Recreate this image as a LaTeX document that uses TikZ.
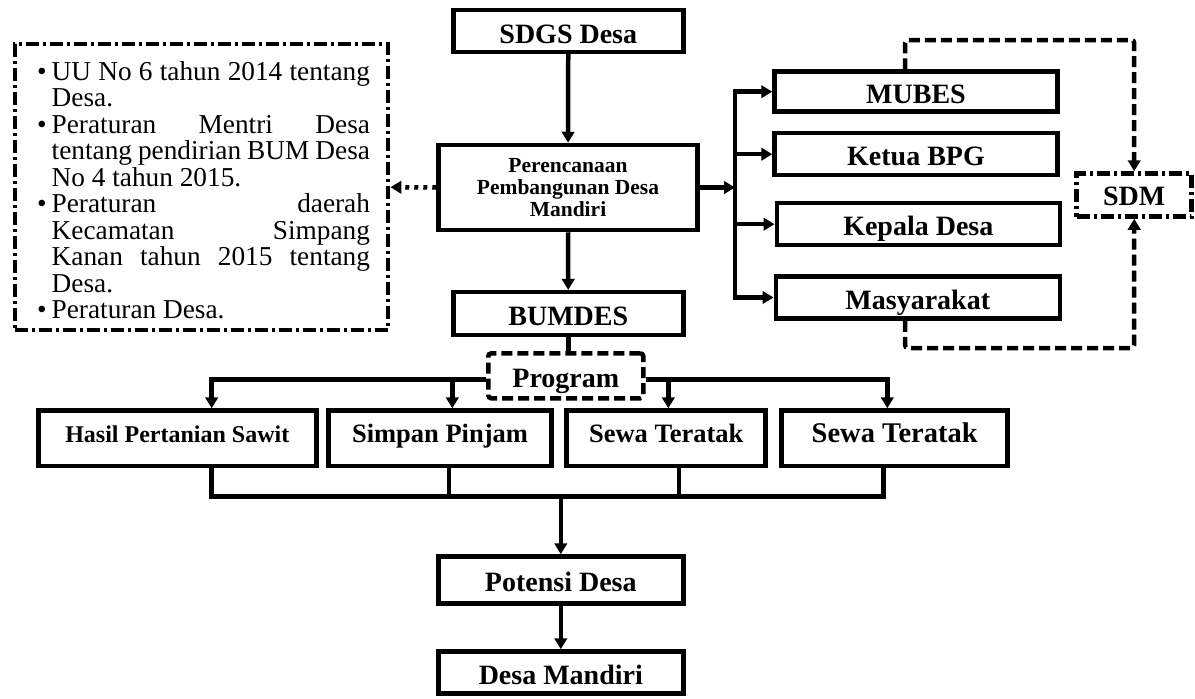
\documentclass[tikz,border=0pt]{standalone}
\usepackage{fontspec}
\setmainfont{Liberation Serif}
\usetikzlibrary{arrows.meta}
\newcommand\lawitem{\par\hangindent=14.7pt\hangafter=1\noindent\makebox[14.7pt][l]{\textbullet}}
\begin{document}
\begin{tikzpicture}[x=1pt,y=-1pt,
  frame/.style={draw, line width=4.5pt, inner sep=0pt},
  box/.style={frame, font=\bfseries\fontsize{28}{30}\selectfont, text height=23pt, text depth=0pt},
  rowbox/.style={frame, text height=17pt, text depth=9pt},
  conn/.style={line width=4.5pt},
  arr/.style={conn, -{Triangle[length=11pt,width=12.5pt]}},
  dashconn/.style={line width=4.5pt, dash pattern=on 11pt off 5pt, rounded corners=3pt, -{Triangle[length=11pt,width=12.5pt]}},
  dashdotbox/.style={draw, line width=4.5pt, dash pattern=on 13pt off 4pt on 3pt off 4pt, inner sep=0pt},
  dashbox/.style={draw, line width=4.5pt, dash pattern=on 11pt off 5pt, rounded corners=3pt, inner sep=0pt},
  dotarr/.style={line width=4.5pt, dash pattern=on 4pt off 5pt, -{Triangle[length=11pt,width=12.5pt]}}
]
\fill[white] (0,0) rectangle (1195,699);
\useasboundingbox (0,0) rectangle (1195,699);

% top column
\node[box, minimum width=230pt, minimum height=42pt, text height=25pt] (sdgs) at (568.3,30.8) {SDGS Desa};
\node[frame, minimum width=259pt, minimum height=85pt, align=center,
      font=\bfseries\fontsize{21.5}{22.3}\selectfont] (perenc) at (568,187.5)
      {Perencanaan\\Pembangunan Desa\\Mandiri};
\node[box, minimum width=230pt, minimum height=43pt] (bumdes) at (568.3,313.7) {BUMDES};

% right column
\node[box, minimum width=283pt, minimum height=40pt] (mubes) at (916,91.7) {MUBES};
\node[box, minimum width=283pt, minimum height=42pt] (ketua) at (916,154.2) {Ketua BPG};
\node[box, minimum width=283pt, minimum height=42pt] (kepala) at (918.3,224.2) {Kepala Desa};
\node[box, minimum width=284pt, minimum height=42pt] (masy) at (917.8,297.5) {Masyarakat};
\node[dashdotbox, minimum width=115pt, minimum height=43pt, text height=21pt, text depth=0pt,
      font=\bfseries\fontsize{28}{30}\selectfont] (sdm) at (1134.2,195) {SDM};

% left legal box
\node[dashdotbox, minimum width=373pt, minimum height=286pt] (laws) at (201.7,187.2) {};
\node[text width=333pt, inner sep=0pt, align=justify,
      font=\fontsize{27.3}{26.5}\selectfont] (lawtext) at (203.5,186.5)
{\parindent=0pt\parskip=0pt
\lawitem UU No 6 tahun 2014 tentang\linebreak Desa.
\lawitem Peraturan Mentri Desa\linebreak tentang pendirian BUM Desa\linebreak No 4 tahun 2015.
\lawitem Peraturan daerah\linebreak Kecamatan Simpang\linebreak Kanan tahun 2015 tentang\linebreak Desa.
\lawitem Peraturan Desa.\par};

% program row
\node[dashbox, minimum width=155pt, minimum height=45pt, text height=24pt, text depth=0pt,
      font=\bfseries\fontsize{28}{30}\selectfont] (prog) at (565.8,375.8) {Program};
\node[rowbox, minimum width=278pt, minimum height=55.5pt,
      font=\bfseries\fontsize{24}{26}\selectfont] (hasil) at (177.3,438.3) {Hasil Pertanian Sawit};
\node[rowbox, minimum width=223pt, minimum height=55.5pt,
      font=\bfseries\fontsize{26.5}{28}\selectfont] (simp) at (440,438.3) {Simpan Pinjam};
\node[rowbox, minimum width=199pt, minimum height=55.5pt,
      font=\bfseries\fontsize{26.5}{28}\selectfont] (sewa1) at (666.2,438.3) {Sewa Teratak};
\node[rowbox, minimum width=226pt, minimum height=55.5pt,
      font=\bfseries\fontsize{28.5}{30}\selectfont] (sewa2) at (894.7,438.3) {Sewa Teratak};

% bottom column
\node[box, minimum width=245pt, minimum height=47pt] (pot) at (560.8,580) {Potensi Desa};
\node[box, minimum width=245pt, minimum height=42pt] (mand) at (560.8,672.5) {Desa Mandiri};

% connectors: main column
\draw[arr] (sdgs) -- (perenc);
\draw[arr] (perenc) -- (bumdes);
\draw[conn] (bumdes.south) -- (bumdes.south |- prog.north);
\draw[dotarr] (perenc.west) -- (laws.east);

% right branch
\coordinate (bar) at (735,0);
\draw[arr] (perenc.east) -- (perenc.east -| bar);
\draw[conn, line cap=rect] (mubes.west -| bar) -- (masy.west -| bar);
\foreach \n in {mubes,ketua,kepala,masy} \draw[arr] (\n.west -| bar) -- (\n.west);

% SDM dashed links
\coordinate (sdmup) at (1134.2,40);
\coordinate (sdmdn) at (1134.2,348);
\coordinate (mubesA) at ([xshift=-11pt]mubes.north);
\coordinate (masyA) at ([xshift=-12.8pt]masy.south);
\draw[dashconn] (mubesA) |- (sdmup) -- (sdm.north);
\draw[dashconn] (masyA) |- (sdmdn) -- (sdm.south);

% program branches
\coordinate (brL) at ([yshift=-3.5pt]prog.west);
\coordinate (brR) at ([yshift=-3.5pt]prog.east);
\coordinate (hasilT) at ([xshift=34.4pt]hasil.north);
\coordinate (simpT) at ([xshift=12.3pt]simp.north);
\coordinate (sewaAT) at ([xshift=2.1pt]sewa1.north);
\coordinate (sewaBT) at ([xshift=-7.4pt]sewa2.north);
\draw[arr] (brL) -| (hasilT);
\draw[arr] (simpT |- brL) -- (simpT);
\draw[arr] (brR) -| (sewaBT);
\draw[arr] (sewaAT |- brR) -- (sewaAT);

% bottom join
\coordinate (join) at (560.8,496.5);
\coordinate (hasilB) at ([xshift=34.4pt]hasil.south);
\coordinate (simpB) at ([xshift=9pt]simp.south);
\coordinate (sewaAB) at ([xshift=12.8pt]sewa1.south);
\coordinate (sewaBB) at ([xshift=-11.4pt]sewa2.south);
\draw[conn] (hasilB) |- (sewaBB |- join) -- (sewaBB);
\draw[conn] (simpB) -- (simpB |- join);
\draw[conn] (sewaAB) -- (sewaAB |- join);
\draw[arr] (join) -- (pot.north);
\draw[arr] (pot) -- (mand);
\end{tikzpicture}
\end{document}
